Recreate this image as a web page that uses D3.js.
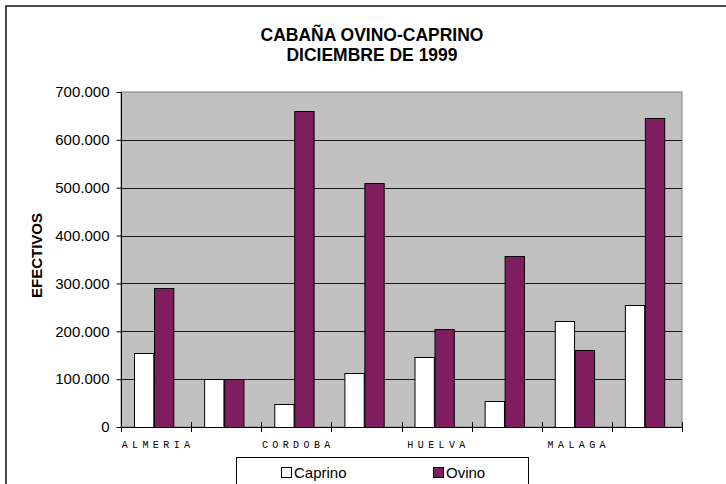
<!DOCTYPE html>
<html>
<head>
<meta charset="utf-8">
<script src="https://cdn.jsdelivr.net/npm/d3@7"></script>
<style>
  html, body { margin: 0; padding: 0; background: #fff; }
  svg { display: block; }
</style>
</head>
<body>
<div id="chart"></div>
<script>
// provincias de Andalucia, only every other label is printed
const provincias = ['ALMERIA', 'CADIZ', 'CORDOBA', 'GRANADA', 'HUELVA', 'JAEN', 'MALAGA', 'SEVILLA'];
const series = ['Caprino', 'Ovino'];
const caprino = [154000, 100000, 49000, 112000, 146000, 54000, 221000, 255000];
const ovino = [291000, 100000, 660000, 510000, 205000, 357000, 160000, 645000];
const yTicks = [0, 100000, 200000, 300000, 400000, 500000, 600000, 700000];

const W = 726, H = 484;
const colors = {Caprino: '#ffffff', Ovino: '#7e1e5e'};
const plot = {left: 121, top: 92, right: 682, bottom: 427};

const es = d3.formatLocale({decimal: ',', thousands: '.', grouping: [3], currency: ['', '']});
const fmt = es.format(',');

const svg = d3.select('#chart').append('svg')
  .attr('width', W)
  .attr('height', H);

// outer chart frame (right and bottom edges fall off the picture)
svg.append('rect')
  .attr('x', 6).attr('y', 6)
  .attr('width', W + 20).attr('height', H + 20)
  .attr('fill', '#fff')
  .attr('stroke', '#111')
  .attr('stroke-width', 1.5);

const x0 = d3.scaleBand()
  .domain(provincias)
  .range([plot.left, plot.right]);

const x1 = d3.scaleBand()
  .domain(series)
  .range([x0.bandwidth() * 0.19, x0.bandwidth() * 0.755]);

const y = d3.scaleLinear()
  .domain([0, 700000])
  .range([plot.bottom, plot.top]);

// plot area
svg.append('rect')
  .attr('x', plot.left).attr('y', plot.top)
  .attr('width', plot.right - plot.left)
  .attr('height', plot.bottom - plot.top)
  .attr('fill', '#c0c0c0')
  .attr('stroke', '#808080')
  .attr('stroke-width', 1);

// gridlines
svg.append('g')
  .selectAll('line')
  .data(yTicks.slice(1, -1))
  .join('line')
  .attr('x1', plot.left).attr('x2', plot.right)
  .attr('y1', d => Math.round(y(d)) + 0.5)
  .attr('y2', d => Math.round(y(d)) + 0.5)
  .attr('stroke', '#1a1a1a')
  .attr('stroke-width', 1);

const data = provincias.map((p, i) => ({prov: p, Caprino: caprino[i], Ovino: ovino[i]}));

svg.append('g')
  .selectAll('g')
  .data(data)
  .join('g')
  .attr('transform', d => `translate(${x0(d.prov)},0)`)
  .selectAll('rect')
  .data(d => series.map(s => ({key: s, value: d[s]})))
  .join('rect')
  .attr('x', d => Math.round(x1(d.key)) + 0.5)
  .attr('y', d => Math.round(y(d.value)) + 0.5)
  .attr('width', x1.bandwidth() - 0.5)
  .attr('height', d => plot.bottom - Math.round(y(d.value)))
  .attr('fill', d => colors[d.key])
  .attr('stroke', '#000')
  .attr('stroke-width', 1);

// y axis
const yAxis = svg.append('g')
  .attr('transform', `translate(${plot.left + 0.5},0)`)
  .call(d3.axisLeft(y).tickValues(yTicks).tickFormat(fmt).tickSize(5).tickPadding(7));
yAxis.select('.domain').attr('stroke', '#000').attr('d', `M0,${plot.top}V${plot.bottom}`);
yAxis.selectAll('.tick line').attr('stroke', '#000');
yAxis.selectAll('.tick text')
  .attr('font-family', 'Liberation Sans, Arial, sans-serif')
  .attr('font-size', 15)
  .attr('fill', '#000');

// x axis: ticks at category boundaries, crossing the axis line
const xAxis = svg.append('g');
xAxis.append('line')
  .attr('x1', plot.left).attr('x2', plot.right)
  .attr('y1', plot.bottom + 0.5).attr('y2', plot.bottom + 0.5)
  .attr('stroke', '#000');
xAxis.selectAll('line.tick')
  .data(provincias.concat(['__end']))
  .join('line')
  .attr('class', 'tick')
  .attr('x1', d => Math.round(d === '__end' ? plot.right : x0(d)) + 0.5)
  .attr('x2', d => Math.round(d === '__end' ? plot.right : x0(d)) + 0.5)
  .attr('y1', plot.bottom - 5)
  .attr('y2', plot.bottom + 5)
  .attr('stroke', '#000');
xAxis.selectAll('text')
  .data(provincias.filter((d, i) => i % 2 === 0))
  .join('text')
  .attr('x', d => x0(d) + x0.bandwidth() / 2 + 2)
  .attr('y', 448)
  .attr('text-anchor', 'middle')
  .attr('font-family', 'Liberation Mono, Courier New, monospace')
  .attr('font-size', 10)
  .attr('letter-spacing', 4.4)
  .attr('fill', '#000')
  .text(d => d);

// title
const title = svg.append('text')
  .attr('x', 372)
  .attr('text-anchor', 'middle')
  .attr('font-family', 'Liberation Sans, Arial, sans-serif')
  .attr('font-weight', 'bold')
  .attr('font-size', 17.5)
  .attr('fill', '#000');
title.append('tspan').attr('x', 372).attr('y', 41).text('CABAÑA OVINO-CAPRINO');
title.append('tspan').attr('x', 372).attr('y', 61).text('DICIEMBRE DE 1999');

// y axis title
svg.append('text')
  .attr('transform', 'translate(42,255.5) rotate(-90)')
  .attr('text-anchor', 'middle')
  .attr('font-family', 'Liberation Sans, Arial, sans-serif')
  .attr('font-weight', 'bold')
  .attr('font-size', 15)
  .attr('fill', '#000')
  .text('EFECTIVOS');

// legend
const legend = svg.append('g');
legend.append('rect')
  .attr('x', 236.5).attr('y', 457.5)
  .attr('width', 292).attr('height', 40)
  .attr('fill', '#fff')
  .attr('stroke', '#000');
const legendX = d3.scalePoint().domain(series).range([281, 433]);
const item = legend.selectAll('g.item')
  .data(series)
  .join('g')
  .attr('class', 'item')
  .attr('transform', d => `translate(${legendX(d)},0)`);
item.append('rect')
  .attr('x', 0.5).attr('y', 467.5)
  .attr('width', 10).attr('height', 10)
  .attr('fill', d => colors[d])
  .attr('stroke', '#000');
item.append('text')
  .attr('x', 13)
  .attr('y', 478)
  .attr('font-family', 'Liberation Sans, Arial, sans-serif')
  .attr('font-size', 15)
  .attr('fill', '#000')
  .text(d => d);
</script>
</body>
</html>
